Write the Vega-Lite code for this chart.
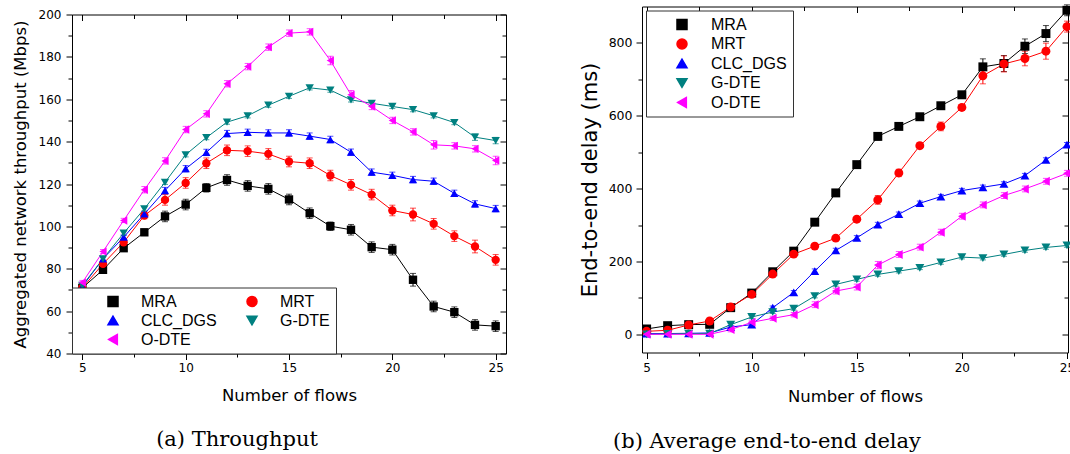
{
  "$schema": "https://vega.github.io/schema/vega-lite/v6.json",
  "background": "white",
  "padding": {"left": 12, "top": 3.5, "right": 0, "bottom": 0},
  "config": {"view": {"stroke": null}, "font": "DejaVu Sans"},
  "datasets": {
    "tp": [
      {"n":5,"s":"MRA","v":71.0,"e":1.5},{"n":6,"s":"MRA","v":79.5,"e":1.5},{"n":7,"s":"MRA","v":89.7,"e":1.5},{"n":8,"s":"MRA","v":97.2,"e":1.5},{"n":9,"s":"MRA","v":104.7,"e":2.5},{"n":10,"s":"MRA","v":110.3,"e":2.5},{"n":11,"s":"MRA","v":118.2,"e":2},{"n":12,"s":"MRA","v":121.9,"e":2.5},{"n":13,"s":"MRA","v":119.1,"e":2.5},{"n":14,"s":"MRA","v":117.7,"e":2.5},{"n":15,"s":"MRA","v":112.7,"e":2.5},{"n":16,"s":"MRA","v":106.2,"e":2.5},{"n":17,"s":"MRA","v":100.1,"e":2},{"n":18,"s":"MRA","v":98.4,"e":2.5},{"n":19,"s":"MRA","v":90.2,"e":2.5},{"n":20,"s":"MRA","v":89.0,"e":2.5},{"n":21,"s":"MRA","v":74.8,"e":3},{"n":22,"s":"MRA","v":62.2,"e":2.5},{"n":23,"s":"MRA","v":59.5,"e":2.5},{"n":24,"s":"MRA","v":53.5,"e":2.5},{"n":25,"s":"MRA","v":52.9,"e":2.5},
      {"n":5,"s":"MRT","v":71.0,"e":1.5},{"n":6,"s":"MRT","v":82.3,"e":1.5},{"n":7,"s":"MRT","v":92.5,"e":1.5},{"n":8,"s":"MRT","v":105.1,"e":1.5},{"n":9,"s":"MRT","v":112.5,"e":2.5},{"n":10,"s":"MRT","v":120.5,"e":2.5},{"n":11,"s":"MRT","v":129.8,"e":2.5},{"n":12,"s":"MRT","v":135.9,"e":2.5},{"n":13,"s":"MRT","v":135.5,"e":2.5},{"n":14,"s":"MRT","v":134.2,"e":2.5},{"n":15,"s":"MRT","v":130.6,"e":2.5},{"n":16,"s":"MRT","v":129.8,"e":2.5},{"n":17,"s":"MRT","v":124.0,"e":2.5},{"n":18,"s":"MRT","v":119.6,"e":2.5},{"n":19,"s":"MRT","v":115.0,"e":2.5},{"n":20,"s":"MRT","v":107.5,"e":2.5},{"n":21,"s":"MRT","v":105.6,"e":3},{"n":22,"s":"MRT","v":101.2,"e":2.5},{"n":23,"s":"MRT","v":95.4,"e":2.5},{"n":24,"s":"MRT","v":90.5,"e":3},{"n":25,"s":"MRT","v":84.2,"e":2.5},
      {"n":5,"s":"CLC_DGS","v":71.6,"e":1},{"n":6,"s":"CLC_DGS","v":84.7,"e":1},{"n":7,"s":"CLC_DGS","v":94.9,"e":1},{"n":8,"s":"CLC_DGS","v":105.9,"e":1},{"n":9,"s":"CLC_DGS","v":116.9,"e":1.5},{"n":10,"s":"CLC_DGS","v":127.2,"e":1.5},{"n":11,"s":"CLC_DGS","v":134.9,"e":1.5},{"n":12,"s":"CLC_DGS","v":143.8,"e":1.5},{"n":13,"s":"CLC_DGS","v":144.4,"e":1.5},{"n":14,"s":"CLC_DGS","v":144.1,"e":1.5},{"n":15,"s":"CLC_DGS","v":144.1,"e":1.5},{"n":16,"s":"CLC_DGS","v":142.6,"e":1.5},{"n":17,"s":"CLC_DGS","v":141.0,"e":1.5},{"n":18,"s":"CLC_DGS","v":135.0,"e":1.5},{"n":19,"s":"CLC_DGS","v":125.6,"e":1.5},{"n":20,"s":"CLC_DGS","v":124.1,"e":1.5},{"n":21,"s":"CLC_DGS","v":122.1,"e":1.5},{"n":22,"s":"CLC_DGS","v":121.3,"e":1.5},{"n":23,"s":"CLC_DGS","v":115.6,"e":1.5},{"n":24,"s":"CLC_DGS","v":110.6,"e":1.5},{"n":25,"s":"CLC_DGS","v":108.4,"e":1.5},
      {"n":5,"s":"G-DTE","v":72.1,"e":1},{"n":6,"s":"G-DTE","v":84.7,"e":1},{"n":7,"s":"G-DTE","v":96.8,"e":1},{"n":8,"s":"G-DTE","v":108.3,"e":1},{"n":9,"s":"G-DTE","v":120.8,"e":1},{"n":10,"s":"G-DTE","v":133.8,"e":1},{"n":11,"s":"G-DTE","v":141.9,"e":1},{"n":12,"s":"G-DTE","v":149.2,"e":1},{"n":13,"s":"G-DTE","v":152.2,"e":1},{"n":14,"s":"G-DTE","v":157.2,"e":1},{"n":15,"s":"G-DTE","v":161.4,"e":1},{"n":16,"s":"G-DTE","v":165.4,"e":1},{"n":17,"s":"G-DTE","v":164.3,"e":1},{"n":18,"s":"G-DTE","v":159.7,"e":1},{"n":19,"s":"G-DTE","v":158.1,"e":1},{"n":20,"s":"G-DTE","v":156.6,"e":1},{"n":21,"s":"G-DTE","v":155.1,"e":1},{"n":22,"s":"G-DTE","v":152.2,"e":1},{"n":23,"s":"G-DTE","v":149.0,"e":1},{"n":24,"s":"G-DTE","v":142.1,"e":1.5},{"n":25,"s":"G-DTE","v":140.5,"e":1.5},
      {"n":5,"s":"O-DTE","v":73.5,"e":1},{"n":6,"s":"O-DTE","v":88.1,"e":1},{"n":7,"s":"O-DTE","v":102.8,"e":1},{"n":8,"s":"O-DTE","v":117.3,"e":1.5},{"n":9,"s":"O-DTE","v":130.9,"e":1.5},{"n":10,"s":"O-DTE","v":145.7,"e":1.5},{"n":11,"s":"O-DTE","v":153.1,"e":1.5},{"n":12,"s":"O-DTE","v":167.3,"e":1.5},{"n":13,"s":"O-DTE","v":175.4,"e":1.5},{"n":14,"s":"O-DTE","v":184.6,"e":1.5},{"n":15,"s":"O-DTE","v":191.2,"e":1.5},{"n":16,"s":"O-DTE","v":191.8,"e":1.5},{"n":17,"s":"O-DTE","v":178.3,"e":2},{"n":18,"s":"O-DTE","v":162.1,"e":2},{"n":19,"s":"O-DTE","v":156.6,"e":1.5},{"n":20,"s":"O-DTE","v":150.0,"e":1.5},{"n":21,"s":"O-DTE","v":144.6,"e":1.5},{"n":22,"s":"O-DTE","v":138.5,"e":2},{"n":23,"s":"O-DTE","v":138.0,"e":1.5},{"n":24,"s":"O-DTE","v":136.6,"e":1.5},{"n":25,"s":"O-DTE","v":131.1,"e":2}
    ],
    "dl": [
      {"n":5,"s":"MRA","v":14.6,"e":3},{"n":6,"s":"MRA","v":23.7,"e":3},{"n":7,"s":"MRA","v":26.5,"e":3},{"n":8,"s":"MRA","v":27.4,"e":3},{"n":9,"s":"MRA","v":73.1,"e":4},{"n":10,"s":"MRA","v":113.2,"e":4},{"n":11,"s":"MRA","v":171.7,"e":4},{"n":12,"s":"MRA","v":228.3,"e":4},{"n":13,"s":"MRA","v":307.8,"e":5},{"n":14,"s":"MRA","v":388.2,"e":6},{"n":15,"s":"MRA","v":465.8,"e":6},{"n":16,"s":"MRA","v":543.4,"e":10},{"n":17,"s":"MRA","v":570.8,"e":8},{"n":18,"s":"MRA","v":597.3,"e":8},{"n":19,"s":"MRA","v":627.5,"e":8},{"n":20,"s":"MRA","v":657.6,"e":8},{"n":21,"s":"MRA","v":734.3,"e":22},{"n":22,"s":"MRA","v":743.5,"e":22},{"n":23,"s":"MRA","v":790.9,"e":20},{"n":24,"s":"MRA","v":825.7,"e":22},{"n":25,"s":"MRA","v":889.6,"e":15},
      {"n":5,"s":"MRT","v":8.2,"e":3},{"n":6,"s":"MRT","v":11.0,"e":3},{"n":7,"s":"MRT","v":25.6,"e":3},{"n":8,"s":"MRT","v":36.5,"e":4},{"n":9,"s":"MRT","v":74.9,"e":4},{"n":10,"s":"MRT","v":109.6,"e":4},{"n":11,"s":"MRT","v":165.3,"e":5},{"n":12,"s":"MRT","v":220.1,"e":5},{"n":13,"s":"MRT","v":242.1,"e":5},{"n":14,"s":"MRT","v":264.0,"e":5},{"n":15,"s":"MRT","v":316.0,"e":6},{"n":16,"s":"MRT","v":369.0,"e":12},{"n":17,"s":"MRT","v":443.0,"e":10},{"n":18,"s":"MRT","v":517.9,"e":8},{"n":19,"s":"MRT","v":570.8,"e":12},{"n":20,"s":"MRT","v":622.9,"e":8},{"n":21,"s":"MRT","v":709.7,"e":22},{"n":22,"s":"MRT","v":742.3,"e":22},{"n":23,"s":"MRT","v":757.2,"e":20},{"n":24,"s":"MRT","v":777.3,"e":22},{"n":25,"s":"MRT","v":844.8,"e":15},
      {"n":5,"s":"CLC_DGS","v":1.8,"e":3},{"n":6,"s":"CLC_DGS","v":2.0,"e":3},{"n":7,"s":"CLC_DGS","v":2.7,"e":3},{"n":8,"s":"CLC_DGS","v":3.7,"e":3},{"n":9,"s":"CLC_DGS","v":20.0,"e":4},{"n":10,"s":"CLC_DGS","v":26.5,"e":4},{"n":11,"s":"CLC_DGS","v":73.0,"e":5},{"n":12,"s":"CLC_DGS","v":115.1,"e":5},{"n":13,"s":"CLC_DGS","v":173.5,"e":6},{"n":14,"s":"CLC_DGS","v":230.2,"e":6},{"n":15,"s":"CLC_DGS","v":264.9,"e":6},{"n":16,"s":"CLC_DGS","v":301.4,"e":6},{"n":17,"s":"CLC_DGS","v":329.7,"e":6},{"n":18,"s":"CLC_DGS","v":359.8,"e":6},{"n":19,"s":"CLC_DGS","v":378.1,"e":6},{"n":20,"s":"CLC_DGS","v":394.6,"e":6},{"n":21,"s":"CLC_DGS","v":403.7,"e":6},{"n":22,"s":"CLC_DGS","v":412.8,"e":6},{"n":23,"s":"CLC_DGS","v":435.7,"e":6},{"n":24,"s":"CLC_DGS","v":478.6,"e":6},{"n":25,"s":"CLC_DGS","v":520.6,"e":6},
      {"n":5,"s":"G-DTE","v":0.0,"e":3},{"n":6,"s":"G-DTE","v":1.0,"e":3},{"n":7,"s":"G-DTE","v":2.0,"e":3},{"n":8,"s":"G-DTE","v":2.0,"e":3},{"n":9,"s":"G-DTE","v":26.5,"e":4},{"n":10,"s":"G-DTE","v":47.5,"e":4},{"n":11,"s":"G-DTE","v":61.2,"e":4},{"n":12,"s":"G-DTE","v":70.3,"e":4},{"n":13,"s":"G-DTE","v":105.0,"e":5},{"n":14,"s":"G-DTE","v":137.0,"e":5},{"n":15,"s":"G-DTE","v":150.7,"e":5},{"n":16,"s":"G-DTE","v":164.4,"e":5},{"n":17,"s":"G-DTE","v":173.5,"e":5},{"n":18,"s":"G-DTE","v":182.6,"e":5},{"n":19,"s":"G-DTE","v":197.3,"e":5},{"n":20,"s":"G-DTE","v":211.9,"e":5},{"n":21,"s":"G-DTE","v":209.2,"e":5},{"n":22,"s":"G-DTE","v":219.2,"e":5},{"n":23,"s":"G-DTE","v":230.2,"e":5},{"n":24,"s":"G-DTE","v":238.4,"e":5},{"n":25,"s":"G-DTE","v":243.9,"e":5},
      {"n":5,"s":"O-DTE","v":0.0,"e":4},{"n":6,"s":"O-DTE","v":0.0,"e":4},{"n":7,"s":"O-DTE","v":0.0,"e":4},{"n":8,"s":"O-DTE","v":0.0,"e":4},{"n":9,"s":"O-DTE","v":12.8,"e":6},{"n":10,"s":"O-DTE","v":32.9,"e":6},{"n":11,"s":"O-DTE","v":43.8,"e":6},{"n":12,"s":"O-DTE","v":53.9,"e":6},{"n":13,"s":"O-DTE","v":81.3,"e":8},{"n":14,"s":"O-DTE","v":118.7,"e":8},{"n":15,"s":"O-DTE","v":129.7,"e":8},{"n":16,"s":"O-DTE","v":190.0,"e":10},{"n":17,"s":"O-DTE","v":219.2,"e":8},{"n":18,"s":"O-DTE","v":239.3,"e":8},{"n":19,"s":"O-DTE","v":280.4,"e":8},{"n":20,"s":"O-DTE","v":324.2,"e":8},{"n":21,"s":"O-DTE","v":355.3,"e":8},{"n":22,"s":"O-DTE","v":380.9,"e":8},{"n":23,"s":"O-DTE","v":399.1,"e":8},{"n":24,"s":"O-DTE","v":420.1,"e":8},{"n":25,"s":"O-DTE","v":442.0,"e":8}
    ]
  },
  "hconcat": [
    {
      "vconcat": [
        {"width": 10, "height": 1, "data": {"values": []}, "mark": "point", "encoding": {}},
        {
          "width": 434,
          "height": 339,
          "title": {"text": "(a) Throughput", "orient": "bottom", "anchor": "middle", "font": "DejaVu Serif", "fontSize": 21, "fontWeight": "normal", "color": "black", "dx": -52, "offset": 25, "baseline": "top"},
          "layer": [
            {
              "data": {"name": "tp"},
              "encoding": {
                "x": {"field": "n", "type": "quantitative", "title": "Number of flows",
                  "scale": {"domain": [4.5, 25.5], "nice": false, "zero": false},
                  "axis": {"orient": "bottom", "values": [5, 7.5, 10, 12.5, 15, 17.5, 20, 22.5, 25], "labelExpr": "datum.value % 5 === 0 ? datum.label : ''", "tickSize": {"condition": {"test": "datum.value % 5 === 0", "value": 6}, "value": 3.5}, "grid": false, "domain": true, "domainColor": "black", "tickColor": "black", "labelColor": "black", "titleColor": "black", "labelFont": "DejaVu Sans", "labelFontSize": 12, "labelPadding": 3, "labelFlush": false, "labelOverlap": false, "titleFont": "DejaVu Sans", "titleFontSize": 16.5, "titleFontWeight": "normal", "titlePadding": 14}},
                "y": {"field": "v", "type": "quantitative", "title": "Aggregated network throughput (Mbps)",
                  "scale": {"domain": [40, 200], "nice": false, "zero": false},
                  "axis": {"orient": "left", "values": [40, 50, 60, 70, 80, 90, 100, 110, 120, 130, 140, 150, 160, 170, 180, 190, 200], "labelExpr": "datum.value % 20 === 0 ? datum.label : ''", "tickSize": {"condition": {"test": "datum.value % 20 === 0", "value": 6}, "value": 4}, "grid": false, "domain": true, "domainColor": "black", "tickColor": "black", "labelColor": "black", "titleColor": "black", "labelFont": "DejaVu Sans", "labelFontSize": 12, "labelPadding": 5, "labelOverlap": false, "labelFlush": false, "titleFont": "DejaVu Sans", "titleFontSize": 16.5, "titleFontWeight": "normal", "titlePadding": 10}},
                "color": {"field": "s", "type": "nominal", "title": null,
                  "scale": {"domain": ["MRA", "MRT", "CLC_DGS", "G-DTE", "O-DTE"], "range": ["#000000", "#ff0000", "#0000ff", "#008080", "#ff00ff"]},
                  "legend": {"title": null, "orient": "bottom-left", "direction": "horizontal", "offset": 0, "columns": 2, "columnPadding": -10, "rowPadding": 3, "padding": 6, "strokeColor": "#333", "fillColor": "white", "labelFont": "Liberation Sans", "labelFontSize": 16, "labelColor": "black", "symbolSize": 100, "symbolOffset": 0, "labelOffset": 47,
                    "encode": {"symbols": {"update": {"x": {"value": 35}}}}}
                }
              },
              "layer": [
                {"mark": {"type": "line", "strokeWidth": 1}},
                {"mark": {"type": "errorbar", "ticks": true, "size": 6, "thickness": 1}, "encoding": {"yError": {"field": "e"}}},
                {"mark": {"type": "point", "filled": true, "size": 70, "opacity": 1},
                  "encoding": {"shape": {"field": "s", "type": "nominal", "title": null,
                    "scale": {"domain": ["MRA", "MRT", "CLC_DGS", "G-DTE", "O-DTE"], "range": ["square", "circle", "triangle-up", "triangle-down", "triangle-left"]},
                    "legend": null}}}
              ]
            },
            {
              "data": {"values": []},
              "mark": {"type": "rule"},
              "encoding": {
                "x": {"field": "n", "type": "quantitative", "title": null,
                  "scale": {"domain": [4.5, 25.5], "nice": false, "zero": false},
                  "axis": {"orient": "top", "values": [5, 7.5, 10, 12.5, 15, 17.5, 20, 22.5, 25], "labels": false, "title": null, "tickSize": {"condition": {"test": "datum.value % 5 === 0", "value": -6}, "value": -4}, "grid": false, "domain": true, "domainColor": "black", "tickColor": "black"}},
                "y": {"field": "v", "type": "quantitative", "title": null,
                  "scale": {"domain": [40, 200], "nice": false, "zero": false},
                  "axis": {"orient": "right", "values": [40, 50, 60, 70, 80, 90, 100, 110, 120, 130, 140, 150, 160, 170, 180, 190, 200], "labels": false, "title": null, "tickSize": {"condition": {"test": "datum.value % 20 === 0", "value": -6}, "value": -4}, "grid": false, "domain": true, "domainColor": "black", "tickColor": "black"}}
              }
            }
          ],
          "resolve": {"axis": {"x": "independent", "y": "independent"}}
        }
      ],
      "spacing": 1,
      "resolve": {"legend": {"color": "independent", "shape": "independent"}}
    },
    {
      "width": 426,
      "height": 346,
      "title": {"text": "(b) Average end-to-end delay", "orient": "bottom", "anchor": "middle", "font": "DejaVu Serif", "fontSize": 21, "fontWeight": "normal", "color": "black", "dx": -88, "offset": 26, "baseline": "top"},
      "layer": [
        {
          "data": {"name": "dl"},
          "encoding": {
            "x": {"field": "n", "type": "quantitative", "title": "Number of flows",
              "scale": {"domain": [4.78, 25.05], "nice": false, "zero": false},
              "axis": {"orient": "bottom", "values": [5, 7.5, 10, 12.5, 15, 17.5, 20, 22.5, 25], "labelExpr": "datum.value % 5 === 0 ? datum.label : ''", "tickSize": {"condition": {"test": "datum.value % 5 === 0", "value": 6}, "value": 3.5}, "grid": false, "domain": true, "domainColor": "black", "tickColor": "black", "labelColor": "black", "titleColor": "black", "labelFont": "DejaVu Sans", "labelFontSize": 12, "labelPadding": 4, "labelFlush": false, "labelOverlap": false, "titleFont": "DejaVu Sans", "titleFontSize": 16.5, "titleFontWeight": "normal", "titlePadding": 15}},
            "y": {"field": "v", "type": "quantitative", "title": "End-to-end delay (ms)",
              "scale": {"domain": [-50, 900], "nice": false, "zero": false},
              "axis": {"orient": "left", "values": [0, 100, 200, 300, 400, 500, 600, 700, 800], "labelExpr": "datum.value % 200 === 0 ? datum.label : ''", "tickSize": {"condition": {"test": "datum.value % 200 === 0", "value": 6}, "value": 4}, "grid": false, "domain": true, "domainColor": "black", "tickColor": "black", "labelColor": "black", "titleColor": "black", "labelFont": "DejaVu Sans", "labelFontSize": 12.5, "labelPadding": 4, "labelOverlap": false, "labelFlush": false, "titleFont": "DejaVu Sans", "titleFontSize": 21, "titleFontWeight": "normal", "titlePadding": 7.5}},
            "color": {"field": "s", "type": "nominal", "title": null,
              "scale": {"domain": ["MRA", "MRT", "CLC_DGS", "G-DTE", "O-DTE"], "range": ["#000000", "#ff0000", "#0000ff", "#008080", "#ff00ff"]},
              "legend": {"title": null, "orient": "top-left", "offset": 4, "columns": 1, "rowPadding": 3.5, "padding": 6, "strokeColor": "#333", "fillColor": "white", "labelFont": "Liberation Sans", "labelFontSize": 16, "labelColor": "black", "symbolSize": 100, "symbolOffset": 0, "labelOffset": 43,
                "encode": {"symbols": {"update": {"x": {"value": 30}}}}}
            }
          },
          "layer": [
            {"mark": {"type": "line", "strokeWidth": 1}},
            {"mark": {"type": "errorbar", "ticks": true, "size": 6, "thickness": 1}, "encoding": {"yError": {"field": "e"}}},
            {"mark": {"type": "point", "filled": true, "size": 80, "opacity": 1},
              "encoding": {"shape": {"field": "s", "type": "nominal", "title": null,
                "scale": {"domain": ["MRA", "MRT", "CLC_DGS", "G-DTE", "O-DTE"], "range": ["square", "circle", "triangle-up", "triangle-down", "triangle-left"]},
                "legend": null}}}
          ]
        },
        {
          "data": {"values": []},
          "mark": {"type": "rule"},
          "encoding": {
            "x": {"field": "n", "type": "quantitative", "title": null,
              "scale": {"domain": [4.78, 25.05], "nice": false, "zero": false},
              "axis": {"orient": "top", "values": [5, 7.5, 10, 12.5, 15, 17.5, 20, 22.5, 25], "labels": false, "title": null, "tickSize": {"condition": {"test": "datum.value % 5 === 0", "value": -6}, "value": -4}, "grid": false, "domain": true, "domainColor": "black", "tickColor": "black"}},
            "y": {"field": "v", "type": "quantitative", "title": null,
              "scale": {"domain": [-50, 900], "nice": false, "zero": false},
              "axis": {"orient": "right", "values": [0, 100, 200, 300, 400, 500, 600, 700, 800], "labels": false, "title": null, "tickSize": {"condition": {"test": "datum.value % 200 === 0", "value": -6}, "value": -4}, "grid": false, "domain": true, "domainColor": "black", "tickColor": "black"}}
          }
        }
      ],
      "resolve": {"axis": {"x": "independent", "y": "independent"}}
    }
  ],
  "spacing": 72,
  "resolve": {"legend": {"color": "independent", "shape": "independent"}}
}
